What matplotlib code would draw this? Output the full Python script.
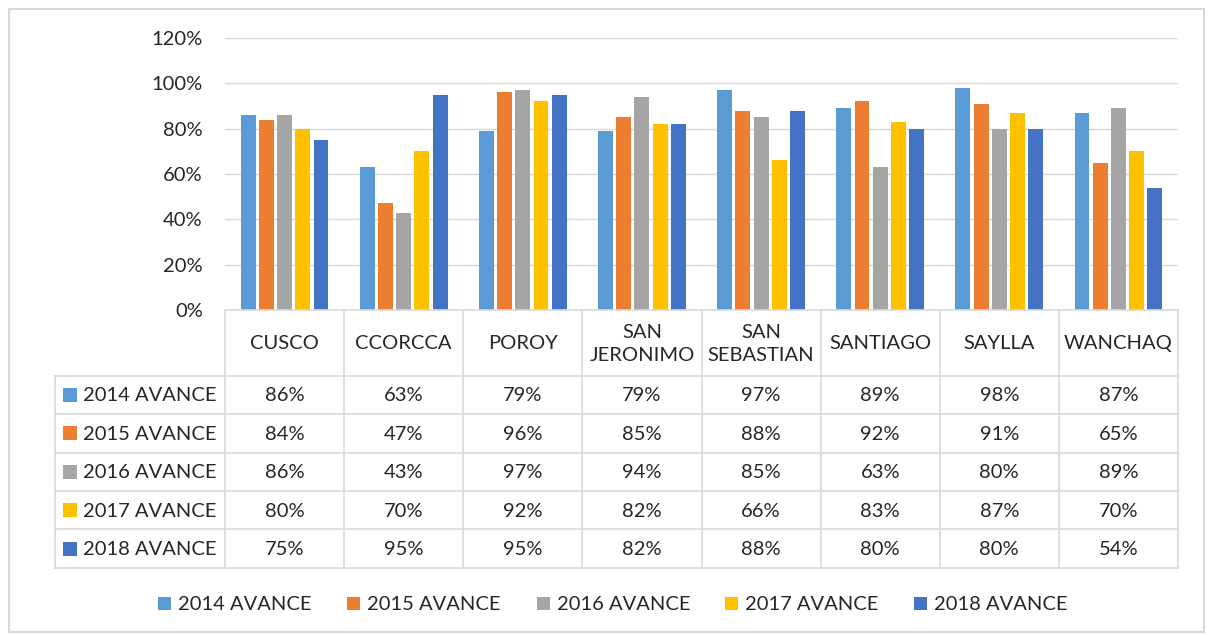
import numpy as np
import matplotlib
matplotlib.use("Agg")
import matplotlib.pyplot as plt
from matplotlib.patches import Rectangle

plt.rcParams['font.family'] = ['Lato', 'DejaVu Sans']

# --------------------------
# Data
# --------------------------
districts = ['CUSCO', 'CCORCCA', 'POROY', 'SAN\nJERONIMO', 'SAN\nSEBASTIAN',
             'SANTIAGO', 'SAYLLA', 'WANCHAQ']
series_names = ['2014 AVANCE', '2015 AVANCE', '2016 AVANCE', '2017 AVANCE', '2018 AVANCE']
avance_2014 = [86, 63, 79, 79, 97, 89, 98, 87]
avance_2015 = [84, 47, 96, 85, 88, 92, 91, 65]
avance_2016 = [86, 43, 97, 94, 85, 63, 80, 89]
avance_2017 = [80, 70, 92, 82, 66, 83, 87, 70]
avance_2018 = [75, 95, 95, 82, 88, 80, 80, 54]
series_values = [avance_2014, avance_2015, avance_2016, avance_2017, avance_2018]
colors = ['#5B9BD5', '#ED7D31', '#A5A5A5', '#FFC000', '#4472C4']
yticks = [0, 20, 40, 60, 80, 100, 120]

W, H = 1208, 635
fig = plt.figure(figsize=(W / 100, H / 100), dpi=100)

# pixel helpers
def fx(px):
    return px / W

def fy(py):
    return 1 - py / H

left, right, top, bottom = 225, 1178, 38, 310
grid_c = '#D9D9D9'
text_c = '#262626'
fs = 14.5

# --------------------------
# Bar chart
# --------------------------
ax = fig.add_axes([fx(left), fy(bottom), fx(right - left), (bottom - top) / H])
n = len(districts)
x = np.arange(n)
step = 0.153
width = 0.125
for i, (vals, c) in enumerate(zip(series_values, colors)):
    ax.bar(x + (i - 2) * step, np.array(vals) / 100, width=width, color=c, zorder=3)
ax.set_xlim(-0.5, n - 0.5)
ax.set_ylim(0, 1.2)
ax.set_yticks([t / 100 for t in yticks])
ax.set_yticklabels([f'{t}%' for t in yticks], fontsize=fs, color=text_c)
ax.set_xticks([])
ax.tick_params(axis='y', length=0, pad=16)
ax.grid(axis='y', color=grid_c, linewidth=1, zorder=0)
for s in ax.spines.values():
    s.set_visible(False)

# --------------------------
# Data table + legend in pixel coordinates
# --------------------------
ov = fig.add_axes([0, 0, 1, 1], zorder=5)
ov.set_xlim(0, W)
ov.set_ylim(H, 0)
ov.axis('off')
ov.patch.set_alpha(0)

# outer frame
ov.add_patch(Rectangle((9, 9), 1195, 623, fill=False, edgecolor=grid_c, linewidth=1.5))

col_w = (right - left) / n
header_bottom = 375.7
row_h = (567.7 - header_bottom) / len(series_names)
tbl_left = 54.5
tbl_bottom = header_bottom + row_h * len(series_names)

# horizontal lines
ov.plot([left, right], [bottom, bottom], color=grid_c, lw=1.2)
for r in range(len(series_names) + 1):
    yy = header_bottom + r * row_h
    ov.plot([tbl_left, right], [yy, yy], color=grid_c, lw=1.2)
# vertical lines
for cidx in range(n + 1):
    xx = left + cidx * col_w
    ov.plot([xx, xx], [bottom, tbl_bottom], color=grid_c, lw=1.2)
ov.plot([tbl_left, tbl_left], [header_bottom, tbl_bottom], color=grid_c, lw=1.2)

# column headers
for cidx, name in enumerate(districts):
    ov.text(left + (cidx + 0.5) * col_w, (bottom + header_bottom) / 2 + 1, name,
            ha='center', va='center', fontsize=fs, color=text_c, linespacing=1.45)

# rows
for r, (sname, vals, c) in enumerate(zip(series_names, series_values, colors)):
    yc = header_bottom + (r + 0.5) * row_h
    ov.add_patch(Rectangle((63, yc - 7), 14, 14, facecolor=c, edgecolor='none'))
    ov.text(83, yc + 1, sname, ha='left', va='center', fontsize=fs, color=text_c)
    for cidx, v in enumerate(vals):
        ov.text(left + (cidx + 0.5) * col_w, yc + 1, f'{v}%', ha='center', va='center',
                fontsize=fs, color=text_c)

# legend
leg_x = [158, 347, 537, 725, 914]
for lx, sname, c in zip(leg_x, series_names, colors):
    ov.add_patch(Rectangle((lx, 597), 13, 13, facecolor=c, edgecolor='none'))
    ov.text(lx + 20, 604, sname, ha='left', va='center', fontsize=fs, color=text_c)

fig.savefig('out.png', dpi=100)
